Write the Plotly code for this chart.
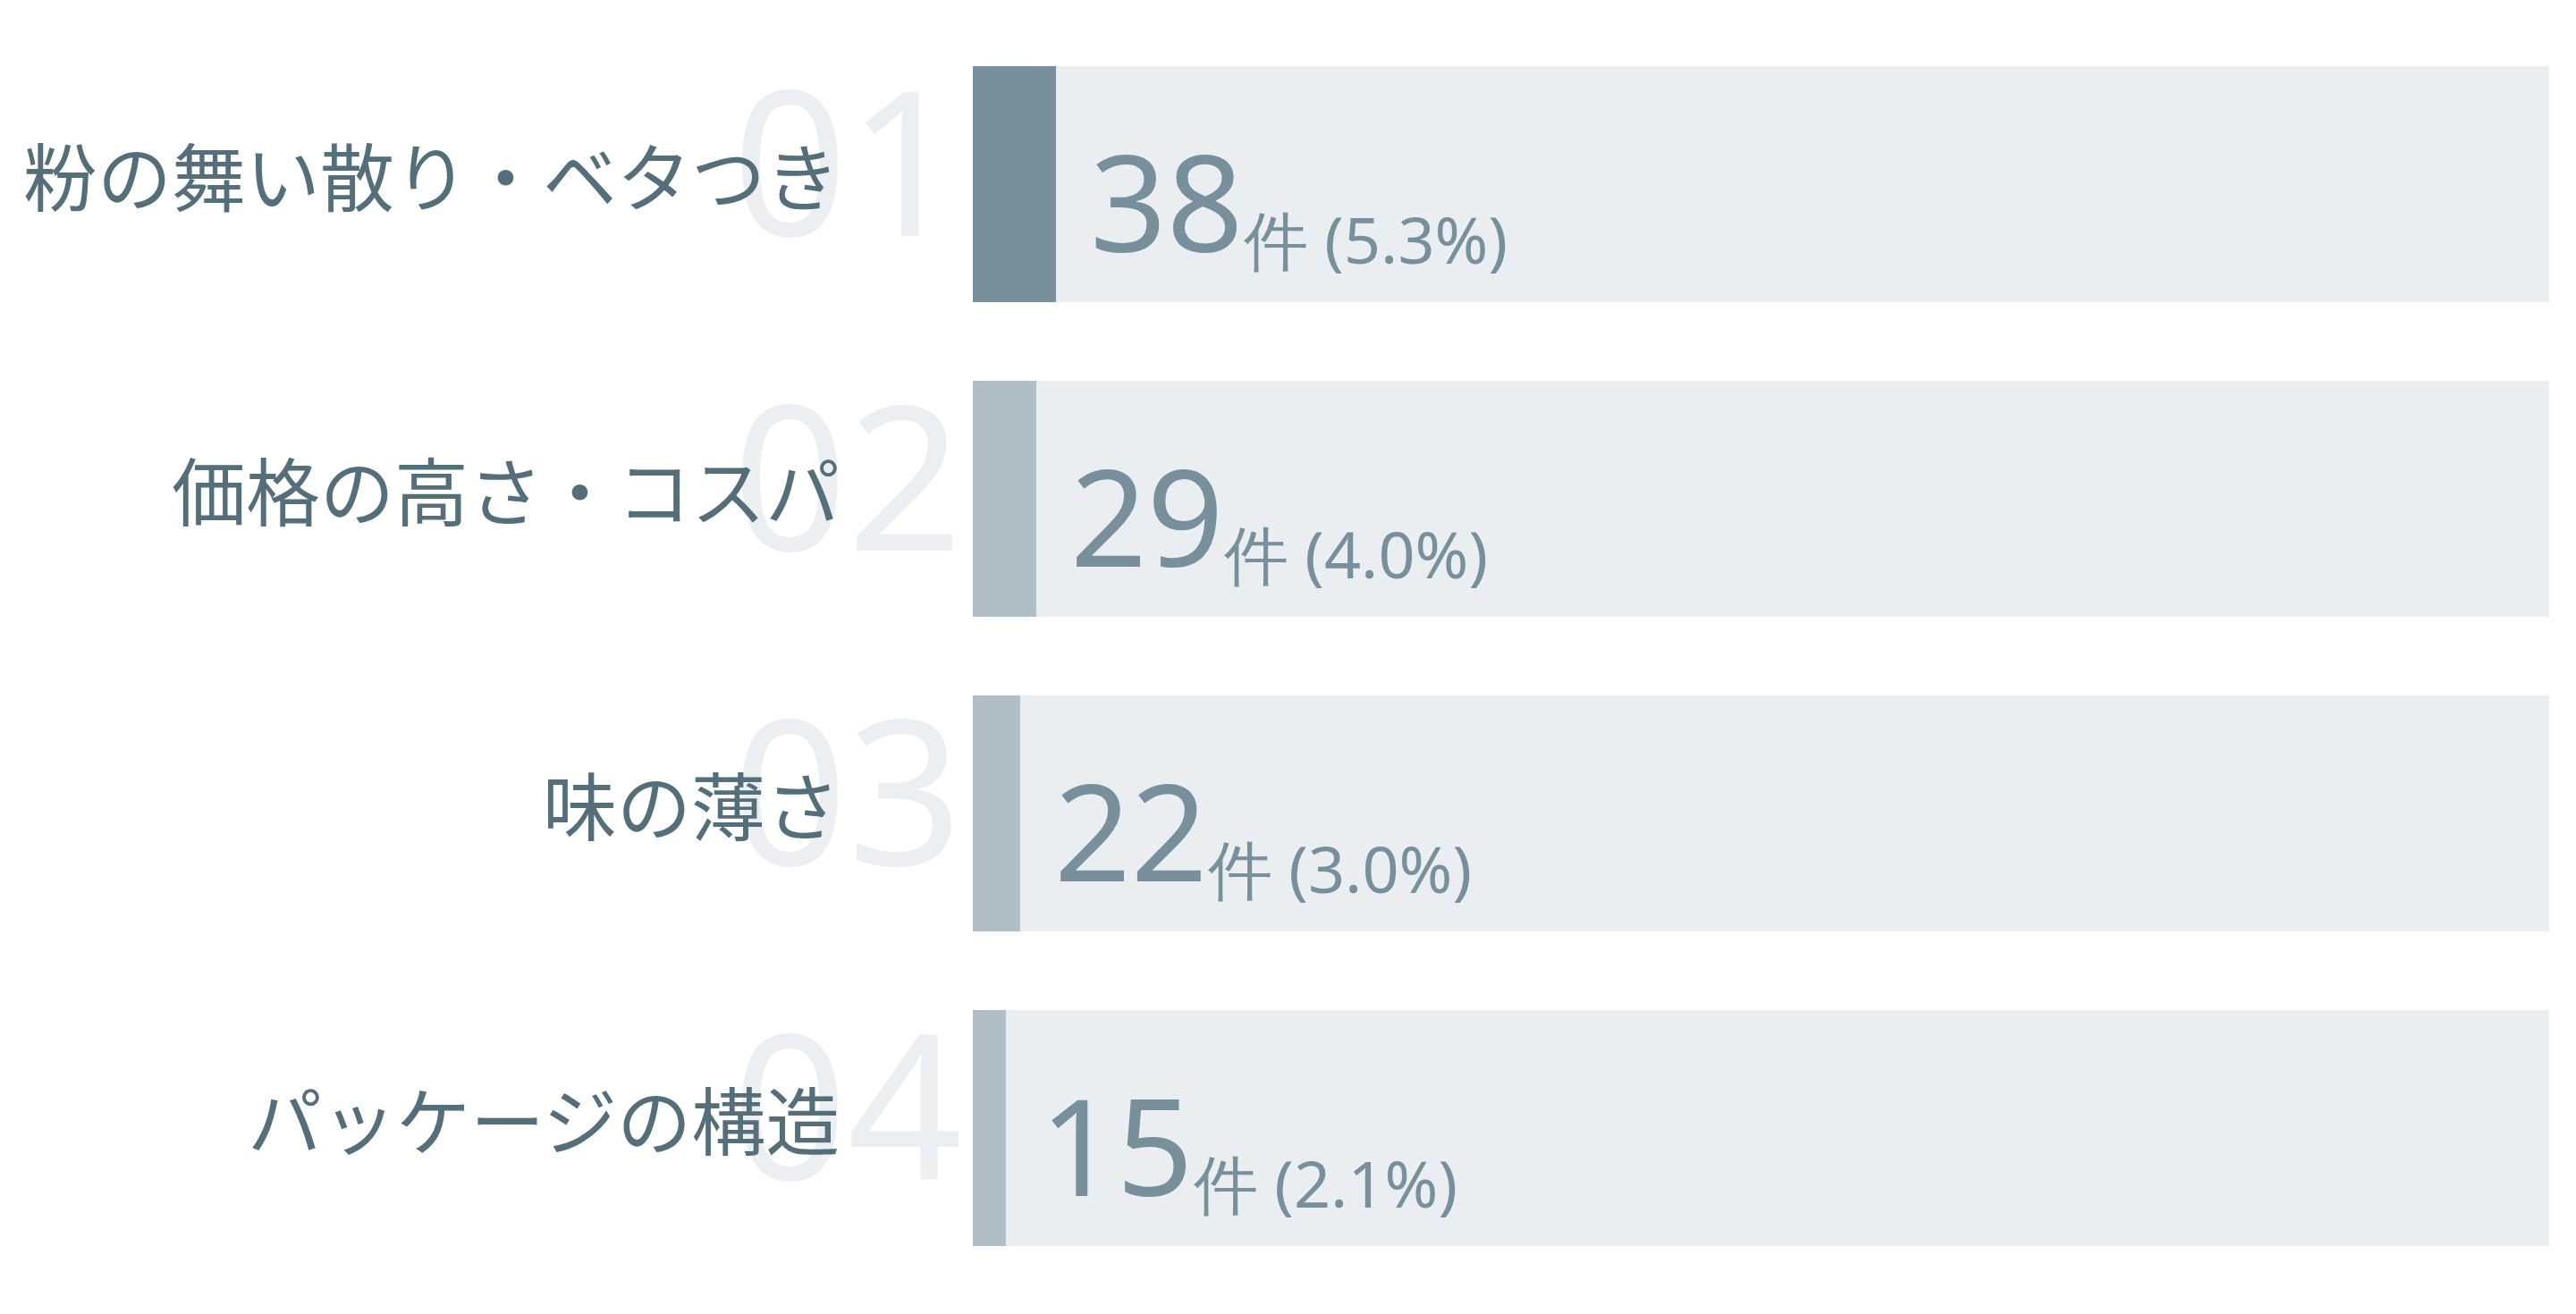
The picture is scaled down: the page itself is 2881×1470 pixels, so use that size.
import plotly.graph_objects as go

# data
categories = ["粉の舞い散り・ベタつき", "価格の高さ・コスパ", "味の薄さ", "パッケージの構造"]
ranks = ["01", "02", "03", "04"]
counts = [38, 29, 22, 15]
shares = [5.3, 4.0, 3.0, 2.1]

TRACK = "#eaeef1"
DARK = "#78909c"
LIGHT = "#b0bec5"
LABEL = "#546e7a"
RANK = "#eceff1"

JP_FONT = "Noto Sans CJK JP, Noto Sans, sans-serif"
NUM_FONT = "Noto Sans, Lato, sans-serif"

fig = go.Figure()

# background track (full 100%)
fig.add_trace(go.Bar(
    y=categories, x=[100] * len(categories), orientation="h",
    marker=dict(color=TRACK, line=dict(width=0)), width=0.75,
    hoverinfo="skip", showlegend=False,
))

# share fill
fig.add_trace(go.Bar(
    y=categories, x=shares, orientation="h",
    marker=dict(color=[DARK] + [LIGHT] * (len(categories) - 1), line=dict(width=0)),
    width=0.75, showlegend=False,
    customdata=counts,
    hovertemplate="%{y}: %{customdata}件 (%{x}%)<extra></extra>",
))

annotations = []
# big faint rank numbers first, so labels sit above them
for cat, rk in zip(categories, ranks):
    annotations.append(dict(
        x=0, xref="paper", y=cat, yref="y", text=rk, showarrow=False,
        xanchor="right", yanchor="middle", xshift=-10, yshift=30,
        font=dict(family=NUM_FONT, size=225, color=RANK),
    ))

for cat in categories:
    annotations.append(dict(
        x=0, xref="paper", y=cat, yref="y", text=cat, showarrow=False,
        xanchor="right", yanchor="middle", xshift=-147, yshift=12,
        font=dict(family=JP_FONT, size=83, color=LABEL),
    ))

for cat, n, s in zip(categories, counts, shares):
    txt = (f"<span style='font-size:150px'>{n}</span>"
           f"<sub><span style='font-size:72px'>件 ({s:.1f}%)</span></sub>")
    annotations.append(dict(
        x=s, xref="x", y=cat, yref="y", text=txt, showarrow=False,
        xanchor="left", yanchor="middle", xshift=36, yshift=-18,
        font=dict(family=NUM_FONT, size=60, color=DARK),
    ))

# page body keeps its 8px margin, so the figure is 16px smaller than the window
fig.update_layout(
    width=2865, height=1454,
    barmode="overlay", bargap=0,
    paper_bgcolor="white", plot_bgcolor="white",
    margin=dict(l=1080, r=22, t=22, b=24),
    xaxis=dict(range=[0, 100], visible=False, fixedrange=True),
    yaxis=dict(categoryorder="array", categoryarray=categories, range=[3.5, -0.5],
               visible=False, fixedrange=True),
    annotations=annotations,
    showlegend=False,
)

fig.write_html("out.html")
